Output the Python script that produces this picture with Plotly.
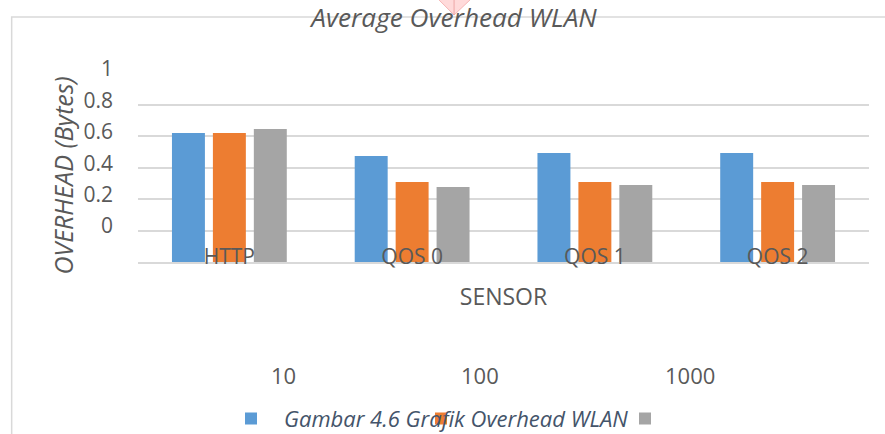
import plotly.graph_objects as go

# ---- data ----
CATEGORIES = ["HTTP", "QOS 0", "QOS 1", "QOS 2"]
SERIES_NAMES = ["10", "100", "1000"]
VALUES_10 = [0.822, 0.675, 0.694, 0.694]
VALUES_100 = [0.822, 0.510, 0.510, 0.510]
VALUES_1000 = [0.847, 0.478, 0.490, 0.490]
Y_TICKS = [0, 0.2, 0.4, 0.6, 0.8, 1]
Y_TICK_LABELS = ["0", "0.2", "0.4", "0.6", "0.8", "1"]

TITLE = "Average Overhead WLAN"
Y_TITLE = "OVERHEAD (Bytes)"
X_TITLE = "SENSOR"
CAPTION = "Gambar 4.6 Grafik Overhead WLAN"

COLORS = ["#5b9bd5", "#ed7d31", "#a5a5a5"]
TEXT = "#595959"
GRID = "#d9d9d9"
FONT = "Open Sans"

W, H = 885, 434
ML, MR, MT, MB = 137.5, 15.5, 60, 172
PW, PH = W - ML - MR, H - MT - MB


def px_to_paper_x(px):
    return (px - ML) / PW


def px_to_paper_y(py):
    return (H - MB - py) / PH


fig = go.Figure()
series = [VALUES_10, VALUES_100, VALUES_1000]
legend_ids = ["legend", "legend2", "legend3"]
for name, vals, col, lg in zip(SERIES_NAMES, series, COLORS, legend_ids):
    fig.add_trace(go.Bar(
        x=CATEGORIES, y=vals,
        name=f"<span style='font-size:22px'>{name}</span><br> ",
        marker=dict(color=col, line=dict(width=0)),
        legend=lg,
        hovertemplate=f"{name}<br>%{{x}}: %{{y}}<extra></extra>",
    ))

legend_sym_px = [251, 441, 645]
legend_common = dict(
    orientation="h", xref="container", yref="container",
    xanchor="left", yanchor="middle", y=1 - 393.8 / H,
    font=dict(family=FONT, size=38, color=TEXT),
    valign="bottom", bgcolor="rgba(0,0,0,0)", borderwidth=0,
)
legends = {}
for lg, sx in zip(legend_ids, legend_sym_px):
    legends[lg] = dict(legend_common, x=(sx - 20) / W)

shapes = [
    # chart frame (top + left edges)
    dict(type="path", xref="paper", yref="paper", layer="below",
         path=(f"M {px_to_paper_x(11)} {px_to_paper_y(440)} "
               f"L {px_to_paper_x(11)} {px_to_paper_y(17)} "
               f"L {px_to_paper_x(895)} {px_to_paper_y(17)}"),
         line=dict(color=GRID, width=1.5)),
    # pink marker at top
    dict(type="path", xref="paper", yref="paper", layer="above",
         path=(f"M {px_to_paper_x(437)} {px_to_paper_y(-2)} "
               f"L {px_to_paper_x(454)} {px_to_paper_y(15)} "
               f"L {px_to_paper_x(472)} {px_to_paper_y(-2)} Z"),
         fillcolor="rgba(255,205,205,0.75)", line=dict(color="#f2a7a7", width=0.8)),
    dict(type="line", xref="paper", yref="paper", layer="above",
         x0=px_to_paper_x(454), x1=px_to_paper_x(454),
         y0=px_to_paper_y(-2), y1=px_to_paper_y(15),
         line=dict(color="#e99a9a", width=0.8)),
]

annotations = [
    dict(text=CAPTION, xref="paper", yref="paper",
         x=px_to_paper_x(455.5), y=px_to_paper_y(418),
         xanchor="center", yanchor="middle", showarrow=False,
         font=dict(family=FONT, size=22, color="#44546a", style="italic")),
    dict(text=Y_TITLE, xref="paper", yref="paper", textangle=-90,
         x=px_to_paper_x(62), y=px_to_paper_y(176),
         xanchor="center", yanchor="middle", showarrow=False,
         font=dict(family=FONT, size=25, color=TEXT, style="italic")),
]

fig.update_layout(
    width=W, height=H,
    margin=dict(l=ML, r=MR, t=MT, b=MB, pad=0),
    paper_bgcolor="white", plot_bgcolor="white",
    font=dict(family=FONT, color=TEXT),
    barmode="group", bargap=0.328, bargroupgap=0.195,
    title=dict(text=TITLE, x=454 / W, xref="container", xanchor="center",
               y=1 - 18 / H, yref="container", yanchor="middle",
               font=dict(family=FONT, size=26.2, color=TEXT, style="italic")),
    showlegend=True,
    shapes=shapes,
    annotations=annotations,
    **legends,
)

fig.update_xaxes(
    showgrid=False, showline=True, linecolor=GRID, linewidth=1.5,
    ticks="", ticklabelstandoff=-25,
    tickfont=dict(family=FONT, size=21, color=TEXT),
    title=dict(text=X_TITLE, standoff=20,
               font=dict(family=FONT, size=23, color=TEXT)),
    automargin=False, fixedrange=True,
)
fig.update_yaxes(
    range=[0, PH / 157.0], tickvals=Y_TICKS, ticktext=Y_TICK_LABELS,
    showgrid=True, gridcolor=GRID, gridwidth=1.5,
    zeroline=False, showline=False, ticks="",
    ticklabelshift=-36, ticklabelstandoff=24,
    tickfont=dict(family=FONT, size=21, color=TEXT),
    automargin=False, fixedrange=True,
)

fig.write_html(
    "out.html",
    config={"displayModeBar": False},
    post_script="document.body.style.margin='0';document.body.style.overflow='hidden';",
)
